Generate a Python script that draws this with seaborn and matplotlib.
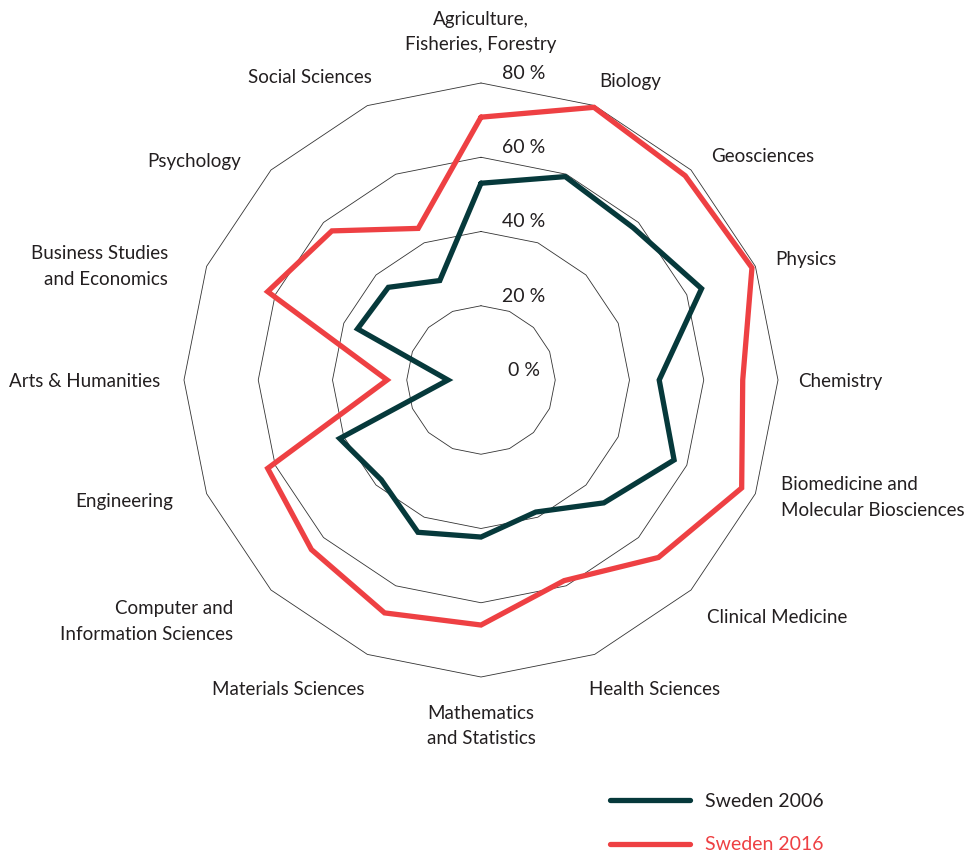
import numpy as np
import pandas as pd
import matplotlib
matplotlib.use('Agg')
import matplotlib.pyplot as plt
from matplotlib.lines import Line2D
import seaborn as sns

categories = ['Agriculture,\nFisheries, Forestry', 'Biology', 'Geosciences', 'Physics',
              'Chemistry', 'Biomedicine and\nMolecular Biosciences', 'Clinical Medicine',
              'Health Sciences', 'Mathematics\nand Statistics', 'Materials Sciences',
              'Computer and\nInformation Sciences', 'Engineering', 'Arts & Humanities',
              'Business Studies\nand Economics', 'Psychology', 'Social Sciences']
sweden_2006 = [53, 59.3, 58, 64.3, 48, 56.3, 46.8, 38.5, 42.3, 44.4, 38, 41.2, 8.9, 36, 35.3, 29]
sweden_2016 = [70.8, 79.5, 77.8, 79, 70.5, 76, 67.6, 58.5, 66, 67.9, 64.6, 62.2, 25.3, 62.2, 56.8, 44.2]
levels = [20, 40, 60, 80]
level_labels = ['0 %', '20 %', '40 %', '60 %', '80 %']

# small hand nudges for the category labels (pixels: right, down)
label_nudge = [(0, -2), (-6, 10), (0, 6), (-6, 4), (-8, 2), (0, -7), (-4, 8), (-16, 1),
               (0, 0), (8, 1), (-18, 12), (-8, -3), (4, 1), (-13, 11), (-10, 11), (15, 6)]

dark = '#06393b'
red = '#ee4043'
txt = '#231f20'

sns.set_style('white')
plt.rcParams['font.family'] = ['Lato', 'DejaVu Sans']

n = len(categories)
theta = np.linspace(0, 2 * np.pi, n, endpoint=False)
theta_closed = np.append(theta, 2 * np.pi)

rows = []
for name, vals in [('Sweden 2006', sweden_2006), ('Sweden 2016', sweden_2016)]:
    for t, v in zip(theta_closed, vals + vals[:1]):
        rows.append({'angle': t, 'value': v, 'series': name})
df = pd.DataFrame(rows)

fig = plt.figure(figsize=(9.67, 8.56), dpi=100)
ax = fig.add_axes([184 / 967, 179 / 856, 594 / 967, 594 / 856], projection='polar')
ax.set_theta_zero_location('N')
ax.set_theta_direction(-1)
ax.set_ylim(0, 80)
ax.grid(False)
ax.spines['polar'].set_visible(False)
ax.set_xticks([])
ax.set_yticks([])

# polygon gridlines
for lv in levels:
    ax.plot(theta_closed, [lv] * (n + 1), color='#333333', lw=0.6, zorder=1, clip_on=False)

sns.lineplot(data=df, x='angle', y='value', hue='series', palette=[dark, red],
             sort=False, estimator=None, linewidth=3.8, legend=False, ax=ax, zorder=3)
for line in ax.lines[-2:]:
    line.set_clip_on(False)
    line.set_solid_joinstyle('miter')
ax.set_xlabel('')
ax.set_ylabel('')

# category labels
for t, lab, (dx, dy) in zip(theta, categories, label_nudge):
    s, c = np.sin(t), np.cos(t)
    ha = 'left' if s > 0.1 else ('right' if s < -0.1 else 'center')
    va = 'bottom' if c > 0.9 else ('top' if c < -0.9 else 'center')
    ax.annotate(lab, xy=(t, 87.5), xytext=(dx * 0.72, -dy * 0.72), textcoords='offset points',
                ha=ha, va=va, fontsize=13.5, color=txt, linespacing=1.6,
                annotation_clip=False)

# radial labels
for lv, lab in zip([0] + levels, level_labels):
    ax.annotate(lab, xy=(0, lv), xytext=(31, 7), textcoords='offset points',
                ha='center', va='center', fontsize=14, color=txt, annotation_clip=False)

handles = [Line2D([], [], color=dark, lw=3.8, solid_capstyle='round'),
           Line2D([], [], color=red, lw=3.8, solid_capstyle='round')]
leg = fig.legend(handles, ['Sweden 2006', 'Sweden 2016'], loc='upper left',
                 bbox_to_anchor=(610 / 967, 1 - 793 / 856), frameon=False, fontsize=14,
                 handlelength=4.1, handletextpad=0.8, labelspacing=1.36,
                 borderpad=0, borderaxespad=0)
leg.get_texts()[0].set_color(txt)
leg.get_texts()[1].set_color(red)

fig.savefig('out.png', dpi=100)
